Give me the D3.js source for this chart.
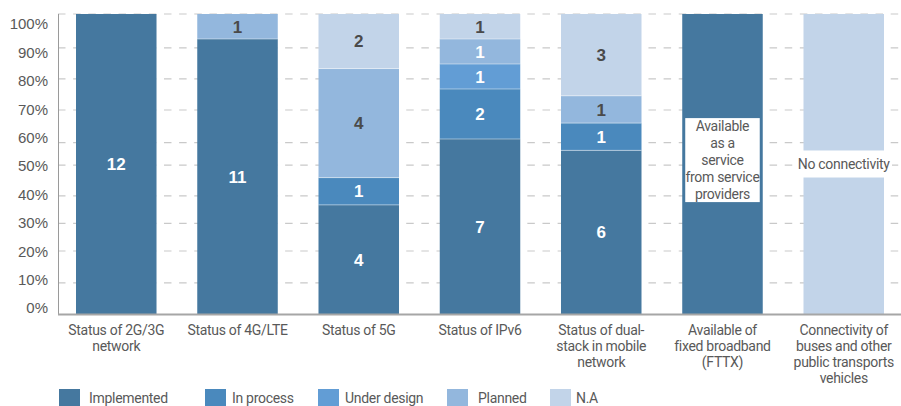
<!DOCTYPE html>
<html><head><meta charset="utf-8">
<script src="https://cdn.jsdelivr.net/npm/d3@7"></script>
<style>
html,body{margin:0;padding:0;background:#fff;}
svg{display:block;}
</style></head><body><svg id="chart" width="901" height="406"></svg>
<script>
// ---------- data ----------
const categories = [
  "Status of 2G/3G\nnetwork",
  "Status of 4G/LTE",
  "Status of 5G",
  "Status of IPv6",
  "Status of dual-\nstack in mobile\nnetwork",
  "Available of\nfixed broadband\n(FTTX)",
  "Connectivity of\nbuses and other\npublic transports\nvehicles"
];
const seriesNames = ["Implemented", "In process", "Under design", "Planned", "N.A"];
// counts per category (last two bars are whole-bar statuses described by a note, counts not shown)
const implemented = [12, 11, 4, 7, 6, 1, 0];
const inProcess   = [0, 0, 1, 2, 1, 0, 0];
const underDesign = [0, 0, 0, 1, 0, 0, 0];
const planned     = [0, 1, 4, 1, 1, 0, 0];
const notAvail    = [0, 0, 2, 1, 3, 0, 1];
const notes = [null, null, null, null, null,
  "Available\nas a\nservice\nfrom service\nproviders",
  "No connectivity"];
const tickLabels = ["0%", "10%", "20%", "30%", "40%", "50%", "60%", "70%", "80%", "90%", "100%"];
const tickValues = [0, 10, 20, 30, 40, 50, 60, 70, 80, 90, 100];
// gridline levels as they sit in the picture (percent)
const gridAt = [10.4, 21, 30.2, 39.4, 49.6, 57.1, 68, 78.4, 88.7, 100];

// ---------- style ----------
const colors = ["#45789f", "#4a89bd", "#629dd5", "#93b7dd", "#c2d4e9"];
const W = 901, H = 406;
const textGray = "#595959";
const cond = "Roboto,'DejaVu Sans Condensed',sans-serif";
const sans = "'Liberation Sans',Arial,sans-serif";
const condStyle = sel => sel.style("font-family", cond).style("font-size", "14px")
  .style("letter-spacing", "-0.3px").attr("fill", textGray);

const svg = d3.select("#chart");
const seriesArrays = [implemented, inProcess, underDesign, planned, notAvail];
const rows = categories.map((c, i) => {
  const r = {cat: c, idx: i};
  seriesNames.forEach((s, k) => r[s] = seriesArrays[k][i]);
  return r;
});
const stacked = d3.stack().keys(seriesNames).offset(d3.stackOffsetExpand)(rows);

const x = d3.scaleBand().domain(categories).range([58, 902]).paddingInner(0.336).paddingOuter(0.1485);
const y = d3.scaleLinear().domain([0, 1]).range([314, 14]);
const yLab = d3.scaleLinear().domain([0, 100]).range([308, 24]);

// gridlines
svg.append("g").selectAll("line").data(gridAt).join("line")
  .attr("x1", 58).attr("x2", W)
  .attr("y1", d => y(d / 100)).attr("y2", d => y(d / 100))
  .attr("stroke", "#c9c9c9").attr("stroke-width", 1.2)
  .attr("stroke-dasharray", "7.5,7.64");

// y axis labels
const ya = svg.append("g").attr("transform", "translate(48,0)")
  .call(d3.axisLeft(yLab).tickValues(tickValues).tickFormat((d, i) => tickLabels[i]).tickSize(0).tickPadding(0));
ya.select(".domain").remove();
ya.selectAll("text").attr("fill", textGray).style("font-family", sans).style("font-size", "15px");

// bars
const layer = svg.append("g").selectAll("g").data(stacked).join("g")
  .attr("fill", (d, i) => colors[i]);
layer.selectAll("rect").data(d => d.filter(p => p[1] - p[0] > 0)).join("rect")
  .attr("x", d => x(d.data.cat))
  .attr("width", x.bandwidth())
  .attr("y", d => y(d[1]))
  .attr("height", d => y(d[0]) - y(d[1]));
// separators
stacked.forEach(s => {
  s.filter(p => p[1] - p[0] > 0 && p[0] > 0).forEach(p => {
    svg.append("line").attr("x1", x(p.data.cat)).attr("x2", x(p.data.cat) + x.bandwidth())
      .attr("y1", y(p[0])).attr("y2", y(p[0]))
      .attr("stroke", "#ffffff").attr("stroke-opacity", 0.45).attr("stroke-width", 1);
  });
});

// value labels
stacked.forEach((s, k) => {
  s.forEach(p => {
    const i = p.data.idx;
    const v = seriesArrays[k][i];
    if (!v || notes[i]) return;
    const dark = seriesNames[k] === "N.A" || (seriesNames[k] === "Planned" && i !== 3);
    svg.append("text")
      .attr("x", x(p.data.cat) + x.bandwidth() / 2)
      .attr("y", y((p[0] + p[1]) / 2))
      .attr("dy", "0.36em")
      .attr("text-anchor", "middle")
      .style("font-family", sans).style("font-weight", "bold").style("font-size", "17px")
      .attr("fill", dark ? "#4a4a4a" : "#ffffff")
      .text(v);
  });
});

// axis lines
svg.append("line").attr("x1", 58.5).attr("x2", 58.5).attr("y1", y(1)).attr("y2", y(0))
  .attr("stroke", "#9a9a9a").attr("stroke-width", 1);
svg.append("line").attr("x1", 58).attr("x2", W).attr("y1", 314.5).attr("y2", 314.5)
  .attr("stroke", "#a6a6a6").attr("stroke-width", 2);

// notes
categories.forEach((c, i) => {
  if (!notes[i]) return;
  const lines = notes[i].split("\n");
  const cx = x(c) + x.bandwidth() / 2;
  const lh = 16.8;
  if (lines.length > 1) {
    const cy = y(0.513);
    const h = lines.length * lh;
    svg.append("rect").attr("x", x(c) + 3).attr("width", x.bandwidth() - 6)
      .attr("y", cy - h / 2).attr("height", h).attr("fill", "#fff");
    const t = svg.append("text").attr("text-anchor", "middle").call(condStyle);
    lines.forEach((l, j) => t.append("tspan").attr("x", cx)
      .attr("y", cy - h / 2 + lh * (j + 0.5)).attr("dy", "0.35em").text(l));
  } else {
    const cy = y(0.5);
    const g = svg.append("g");
    const r = g.append("rect").attr("fill", "#fff");
    const t = g.append("text").attr("x", cx).attr("y", cy).attr("dy", "0.35em")
      .attr("text-anchor", "middle").call(condStyle).text(lines[0]);
    const bb = t.node().getBBox();
    const w = Math.max(x.bandwidth(), bb.width + 4);
    r.attr("x", cx - w / 2).attr("width", w).attr("y", cy - 13.5).attr("height", 27);
  }
});

// category labels
const xl = svg.append("g");
categories.forEach(c => {
  const t = xl.append("text").attr("text-anchor", "middle").call(condStyle);
  c.split("\n").forEach((l, j) => t.append("tspan")
    .attr("x", x(c) + x.bandwidth() / 2).attr("y", 335 + j * 16).text(l));
});

// legend
const legX = [59, 205, 318, 447, 550];
const legGap = [30, 27, 27, 31, 26];
const leg = svg.append("g");
seriesNames.forEach((s, k) => {
  leg.append("rect").attr("x", legX[k]).attr("y", 389).attr("width", 21).attr("height", 17).attr("fill", colors[k]);
  leg.append("text").attr("x", legX[k] + legGap[k]).attr("y", 403).call(condStyle).text(s);
});
</script></body></html>
